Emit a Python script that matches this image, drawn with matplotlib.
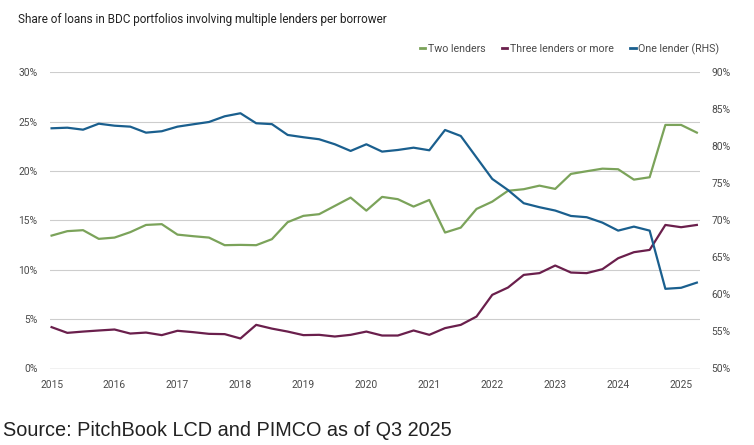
import matplotlib
matplotlib.use('Agg')
import matplotlib.pyplot as plt
from matplotlib import font_manager as fm
from matplotlib.lines import Line2D

# ---------------- data ----------------
years = list(range(2015, 2026))
n_quarters = 42  # quarterly observations starting 2015

two_lenders = [13.46, 13.91, 14.01, 13.13, 13.26, 13.81, 14.54, 14.62, 13.56, 13.40,
               13.26, 12.49, 12.52, 12.49, 13.10, 14.82, 15.46, 15.63, 16.47, 17.31,
               15.99, 17.38, 17.15, 16.40, 17.07, 13.77, 14.27, 16.16, 16.90, 18.00,
               18.16, 18.52, 18.19, 19.71, 19.98, 20.24, 20.18, 19.13, 19.37, 24.67,
               24.67, 23.89]
three_plus = [4.19, 3.61, 3.74, 3.85, 3.95, 3.54, 3.64, 3.38, 3.82, 3.68,
              3.51, 3.48, 3.04, 4.42, 4.04, 3.74, 3.38, 3.41, 3.24, 3.41,
              3.74, 3.34, 3.34, 3.85, 3.41, 4.09, 4.42, 5.26, 7.46, 8.20,
              9.48, 9.66, 10.43, 9.72, 9.66, 10.06, 11.17, 11.78, 12.01, 14.54,
              14.31, 14.54]
one_lender = [82.44, 82.52, 82.25, 83.06, 82.79, 82.66, 81.85, 82.04, 82.66, 82.98,
              83.29, 84.06, 84.47, 83.12, 83.00, 81.54, 81.23, 80.96, 80.28, 79.38,
              80.28, 79.29, 79.51, 79.82, 79.47, 82.21, 81.40, 78.50, 75.60, 74.10,
              72.32, 71.78, 71.33, 70.60, 70.43, 69.70, 68.62, 69.16, 68.62, 60.76,
              60.90, 61.60]
left_ticks = [0, 5, 10, 15, 20, 25, 30]
right_ticks = [50, 55, 60, 65, 70, 75, 80, 85, 90]

title = "Share of loans in BDC portfolios involving multiple lenders per borrower"
source = "Source: PitchBook LCD and PIMCO as of Q3 2025"
labels = ["Two lenders", "Three lenders or more", "One lender (RHS)"]

# ---------------- style ----------------
GREEN = '#7ba35a'
PURPLE = '#6a1f4c'
BLUE = '#1a5f8e'
GRID = '#cdcdcd'
TXT = '#4a4a4a'

names = {f.name for f in fm.fontManager.ttflist}
COND = 'Liberation Sans Narrow' if 'Liberation Sans Narrow' in names else 'Roboto'
ARIAL = 'Liberation Sans' if 'Liberation Sans' in names else 'DejaVu Sans'

W, H = 754, 445
fig = plt.figure(figsize=(W / 100, H / 100), dpi=100)
renderer = fig.canvas.get_renderer()


def px_width(txt, family, size):
    t = fig.text(0, 0, txt, family=family, fontsize=size)
    w = t.get_window_extent(renderer).width
    t.remove()
    return w


def fit_size(txt, family, target_px, base=10):
    return base * target_px / px_width(txt, family, base)


tick_fs = fit_size("2015", COND, 23)
legend_fs = fit_size("Three lenders or more", COND, 104)
title_fs = fit_size(title, COND, 372)
source_fs = fit_size(source, ARIAL, 449)

ax_left, ax_right = 50 / W, 700 / W
ax_bottom, ax_top = 1 - 368.5 / H, 1 - 72.3 / H
ax = fig.add_axes([ax_left, ax_bottom, ax_right - ax_left, ax_top - ax_bottom])
ax2 = ax.twinx()

x = list(range(n_quarters))
ax.plot(x, two_lenders, color=GREEN, lw=1.6, solid_joinstyle='round', zorder=3)
ax.plot(x, three_plus, color=PURPLE, lw=1.6, solid_joinstyle='round', zorder=3)
ax2.plot(x, one_lender, color=BLUE, lw=1.6, solid_joinstyle='round', zorder=3)

ax.set_xlim(-0.1, 41.2)
ax.set_ylim(0, 30)
ax2.set_ylim(50, 90)

ax.set_yticks(left_ticks)
ax.set_yticklabels([f"{v}%" for v in left_ticks])
ax2.set_yticks(right_ticks)
ax2.set_yticklabels([f"{v}%" for v in right_ticks])
ax.set_xticks([4 * i for i in range(len(years))])
ax.set_xticklabels([str(y) for y in years])

for a in (ax, ax2):
    for s in a.spines.values():
        s.set_visible(False)
    a.tick_params(length=0, labelsize=tick_fs, labelcolor=TXT)
    for lab in a.get_xticklabels() + a.get_yticklabels():
        lab.set_family(COND)
ax.tick_params(axis='y', pad=12.5 * 0.72)
ax2.tick_params(axis='y', pad=11.5 * 0.72)
ax.tick_params(axis='x', pad=11 * 0.72)

ax.grid(axis='y', color=GRID, lw=0.8, zorder=0)
ax.grid(axis='x', visible=False)
ax.axhline(0, color='#a8a8a8', lw=0.9, zorder=1)
ax.set_axisbelow(True)
ax2.grid(False)

fig.text(18 / W, 1 - 19.5 / H, title, family=COND, fontsize=title_fs,
         color='#222222', ha='left', va='center')
fig.text(3 / W, 1 - 430 / H, source, family=ARIAL, fontsize=source_fs,
         color='#222222', ha='left', va='center')

handles = [Line2D([], [], color=c, lw=2) for c in (GREEN, PURPLE, BLUE)]
leg = fig.legend(handles, labels, ncol=3, frameon=False, loc='center right',
                 bbox_to_anchor=(719 / W, 1 - 49 / H), borderpad=0, borderaxespad=0,
                 handlelength=0.5, handletextpad=0.2, columnspacing=1.6,
                 prop={'family': COND, 'size': legend_fs})
for t in leg.get_texts():
    t.set_color(TXT)

fig.savefig('out.png', dpi=100)
